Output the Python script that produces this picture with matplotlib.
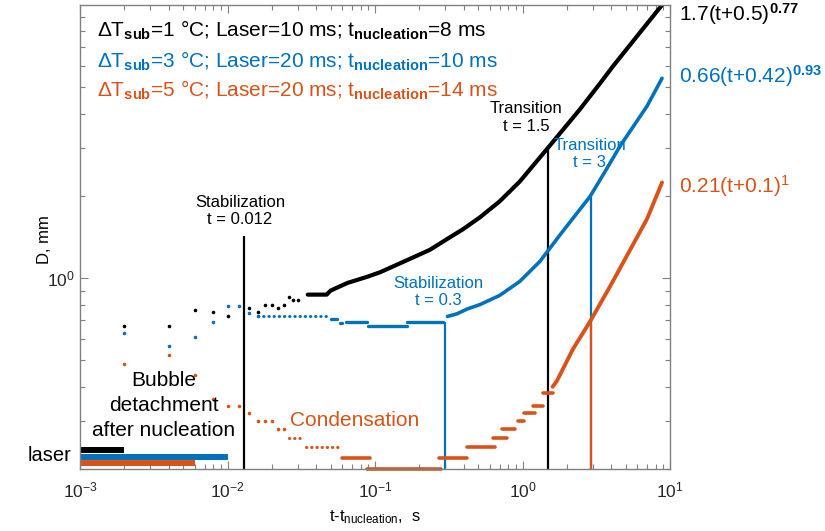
import numpy as np
import matplotlib
matplotlib.use('Agg')
import matplotlib.pyplot as plt
from matplotlib import ticker, transforms

plt.rcParams['font.family'] = ['Liberation Sans', 'DejaVu Sans']
plt.rcParams['mathtext.fontset'] = 'custom'
plt.rcParams['mathtext.rm'] = 'Liberation Sans'
plt.rcParams['mathtext.it'] = 'Liberation Sans:italic'
plt.rcParams['mathtext.bf'] = 'Liberation Sans:bold'

BLACK = '#000000'
BLUE = '#0072BD'
ORANGE = '#D95319'

# --- dT_sub = 1 C (black) ---
black_dot_t = [0.002, 0.004, 0.006, 0.008, 0.010, 0.014, 0.016, 0.018, 0.020, 0.022, 0.024, 0.026, 0.028, 0.030]
black_dot_D = [0.665, 0.665, 0.762, 0.75, 0.727, 0.78, 0.75, 0.80, 0.80, 0.78, 0.80, 0.85, 0.83, 0.83]
black_line_t = [0.035, 0.047, 0.050, 0.065, 0.088, 0.108, 0.141, 0.181, 0.236, 0.308, 0.395,
                0.515, 0.70, 0.96, 1.52, 2.45, 3.35, 4.11, 6.27, 8.83]
black_line_D = [0.87, 0.87, 0.90, 0.96, 1.01, 1.05, 1.12, 1.19, 1.27, 1.39, 1.51,
                1.67, 1.91, 2.26, 3.04, 4.15, 5.16, 5.97, 7.94, 10.0]

# --- dT_sub = 3 C (blue) ---
blue_dot_t = [0.002, 0.004, 0.006, 0.008, 0.010, 0.012, 0.014, 0.016]
blue_dot_D = [0.627, 0.562, 0.607, 0.689, 0.788, 0.788, 0.743, 0.724]
blue_dotted_start = [0.016]
blue_dotted_end = [0.047]
blue_dotted_D = [0.724]
blue_step_start = [0.050, 0.058, 0.064, 0.089, 0.165]
blue_step_end = [0.055, 0.060, 0.088, 0.165, 0.29]
blue_step_D = [0.706, 0.685, 0.69, 0.665, 0.69]
blue_line_t = [0.31, 0.36, 0.42, 0.515, 0.70, 0.96, 1.31, 1.85, 2.87, 3.62, 4.58, 6.98, 8.83]
blue_line_D = [0.724, 0.74, 0.77, 0.80, 0.864, 0.973, 1.15, 1.47, 1.99, 2.45, 3.04, 4.26, 5.39]

# --- dT_sub = 5 C (orange) ---
orange_dot_t = [0.002, 0.004, 0.006, 0.008, 0.010, 0.012, 0.014, 0.016, 0.018, 0.020, 0.022, 0.024]
orange_dot_D = [0.483, 0.525, 0.44, 0.362, 0.339, 0.339, 0.322, 0.30, 0.30, 0.30, 0.28, 0.28]
orange_dotted_start = [0.026, 0.034]
orange_dotted_end = [0.032, 0.058]
orange_dotted_D = [0.26, 0.24]
orange_step_start = [0.060, 0.088, 0.27, 0.42, 0.63, 0.73, 0.93, 1.03, 1.17, 1.37]
orange_step_end = [0.092, 0.28, 0.42, 0.65, 0.78, 0.89, 1.03, 1.21, 1.37, 1.60]
orange_step_D = [0.22, 0.20, 0.22, 0.24, 0.26, 0.28, 0.30, 0.32, 0.34, 0.38]
orange_line_t = [1.60, 1.71, 2.2, 2.9, 4.0, 5.5, 7.0, 8.83]
orange_line_D = [0.40, 0.42, 0.55, 0.70, 0.95, 1.30, 1.65, 2.24]

# laser duration after nucleation, s
laser_end = [0.002, 0.010, 0.006]

# marker lines (stabilization / transition)
vline_t = [0.013, 0.3, 1.5, 2.9, 2.9]
vline_top = [1.43, 0.69, 3.04, 2.0, 0.70]
vline_color = [BLACK, BLUE, BLACK, BLUE, ORANGE]

fig = plt.figure(figsize=(8.25, 5.31), dpi=100)
ax = fig.add_axes([80/825, 62/531, 590/825, 464/531])
ax.set_xscale('log')
ax.set_yscale('log')
ax.set_xlim(1e-3, 1e1)
ax.set_ylim(0.2, 10)

for t, top, c in zip(vline_t, vline_top, vline_color):
    ax.plot([t, t], [0.2, top], color=c, lw=1.6, solid_capstyle='butt')

def segs(t0, t1, d, color, lw, ls='-'):
    for a, b, y in zip(t0, t1, d):
        ax.plot([a, b], [y, y], color=color, lw=lw, ls=ls, solid_capstyle='round',
                dash_capstyle='round', clip_on=False)

dotted = (0, (0.1, 1.6))
# black
ax.plot(black_dot_t, black_dot_D, 'o', ms=2.6, mec='none', color=BLACK)
ax.plot(black_line_t, black_line_D, color=BLACK, lw=3.0, solid_capstyle='round')
# blue
ax.plot(blue_dot_t, blue_dot_D, 'o', ms=2.6, mec='none', color=BLUE)
segs(blue_dotted_start, blue_dotted_end, blue_dotted_D, BLUE, 2.2, dotted)
segs(blue_step_start, blue_step_end, blue_step_D, BLUE, 2.4)
ax.plot(blue_line_t, blue_line_D, color=BLUE, lw=2.6, solid_capstyle='round')
# orange
ax.plot(orange_dot_t, orange_dot_D, 'o', ms=2.6, mec='none', color=ORANGE)
segs(orange_dotted_start, orange_dotted_end, orange_dotted_D, ORANGE, 2.2, dotted)
segs(orange_step_start, orange_step_end, orange_step_D, ORANGE, 2.6)
ax.plot(orange_line_t, orange_line_D, color=ORANGE, lw=2.8, solid_capstyle='round')

# laser bars
trans = transforms.blended_transform_factory(ax.transData, ax.transAxes)
for end, y, c in zip(laser_end, [0.040, 0.026, 0.013], [BLACK, BLUE, ORANGE]):
    ax.plot([1e-3, end], [y, y], transform=trans, color=c, lw=4.3, solid_capstyle='butt', clip_on=False)

# axes style
for s in ax.spines.values():
    s.set_color('#808080')
    s.set_linewidth(1.0)
ax.set_yticks([1])
ax.yaxis.set_major_formatter(ticker.LogFormatterSciNotation())
ax.yaxis.set_minor_locator(ticker.LogLocator(subs=np.arange(2, 10)))
ax.yaxis.set_minor_formatter(ticker.NullFormatter())
ax.xaxis.set_minor_locator(ticker.LogLocator(subs=np.arange(2, 10), numticks=20))
ax.xaxis.set_minor_formatter(ticker.NullFormatter())
ax.tick_params(which='both', direction='in', top=True, right=True, color='#808080',
               labelcolor='#262626', labelsize=12.5)
ax.tick_params(which='major', length=6, width=0.8)
ax.tick_params(which='minor', length=3.5, width=0.8)
ax.tick_params(axis='x', pad=8)
ax.tick_params(axis='y', pad=4)

ax.set_xlabel('t-t$_{\\mathrm{nucleation}}$,  s', fontsize=12)
ax.xaxis.set_label_coords(0.5, -0.084)
ax.set_ylabel('D, mm', fontsize=12)
ax.yaxis.set_label_coords(-0.048, 0.494)

# legend-like text
leg_txt = ['\u0394T$_{\\mathbf{sub}}$=1 \u00b0C; Laser=10 ms; t$_{\\mathbf{nucleation}}$=8 ms',
           '\u0394T$_{\\mathbf{sub}}$=3 \u00b0C; Laser=20 ms; t$_{\\mathbf{nucleation}}$=10 ms',
           '\u0394T$_{\\mathbf{sub}}$=5 \u00b0C; Laser=20 ms; t$_{\\mathbf{nucleation}}$=14 ms']
for txt, y, c in zip(leg_txt, [0.931, 0.864, 0.802], [BLACK, BLUE, ORANGE]):
    ax.text(0.0288, y, txt, color=c, fontsize=15, transform=ax.transAxes, va='baseline')

fits = ['1.7(t+0.5)$^{\\mathbf{0.77}}$', '0.66(t+0.42)$^{\\mathbf{0.93}}$', '0.21(t+0.1)$^{1}$']
for txt, y, c in zip(fits, [0.9655, 0.832, 0.595], [BLACK, BLUE, ORANGE]):
    ax.text(1.015, y, txt, color=c, fontsize=15, transform=ax.transAxes, va='baseline', clip_on=False)

ax.text(0.756, 0.7575, 'Transition\nt = 1.5', color=BLACK, fontsize=12, ha='center', va='center', transform=ax.transAxes)
ax.text(0.864, 0.679, 'Transition\nt = 3', color=BLUE, fontsize=12, ha='center', va='center', transform=ax.transAxes)
ax.text(0.271, 0.556, 'Stabilization\nt = 0.012', color=BLACK, fontsize=12, ha='center', va='center', transform=ax.transAxes)
ax.text(0.607, 0.381, 'Stabilization\nt = 0.3', color=BLUE, fontsize=12, ha='center', va='center', transform=ax.transAxes)
ax.text(0.142, 0.136, 'Bubble\ndetachment\nafter nucleation', color=BLACK, fontsize=15, ha='center', va='center',
        linespacing=1.4, transform=ax.transAxes)
ax.text(0.356, 0.0927, 'Condensation', color=ORANGE, fontsize=15, va='baseline', transform=ax.transAxes)
ax.text(-0.0136, 0.030, 'laser', color=BLACK, fontsize=14.5, ha='right', va='center', transform=ax.transAxes)

fig.savefig('out.png', dpi=100)
